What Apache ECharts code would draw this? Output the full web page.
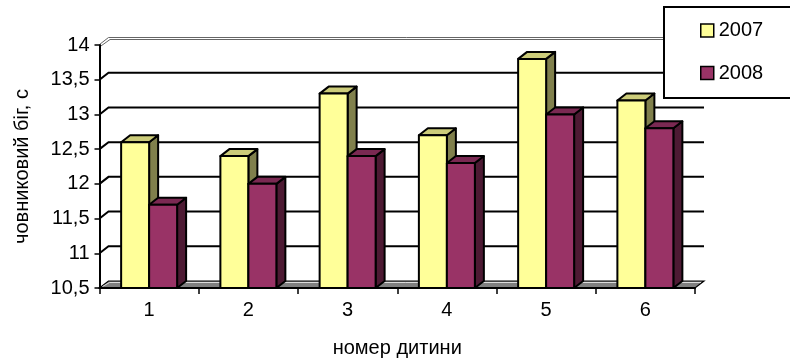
<!DOCTYPE html>
<html>
<head>
<meta charset="utf-8">
<script src="https://cdn.jsdelivr.net/npm/echarts@6/dist/echarts.min.js"></script>
<style>
  html, body { margin: 0; padding: 0; background: #fff; }
  #chart { width: 790px; height: 363px; }
</style>
</head>
<body>
<div id="chart"></div>
<script>
// Shuttle-run times per child, two school years
const categories = ['1', '2', '3', '4', '5', '6'];
const seriesNames = ['2007', '2008'];
const values2007 = [12.6, 12.4, 13.3, 12.7, 13.8, 13.2];
const values2008 = [11.7, 12.0, 12.4, 12.3, 13.0, 12.8];
const yTicks = [10.5, 11, 11.5, 12, 12.5, 13, 13.5, 14];
const yTickLabels = ['10,5', '11', '11,5', '12', '12,5', '13', '13,5', '14'];

const FONT = '"Liberation Sans", Arial, sans-serif';
const DX = 9;      // depth shift of the pseudo-3D box, x
const DY = -7;     // depth shift, y
const BAR_RATIO = 0.282;

// face colours: front, top, side
const palette = [
  { front: '#FFFF99', top: '#CCCC7A', side: '#80804C' },
  { front: '#993366', top: '#7A2952', side: '#4D1A33' }
];

function barRenderer(seriesIdx) {
  const c = palette[seriesIdx];
  return function (params, api) {
    const idx = api.value(0);
    const val = api.value(1);
    const top = api.coord([idx, val]);
    const base = api.coord([idx, yTicks[0]]);
    const band = api.size([1, 0])[0];
    const w = band * BAR_RATIO;
    const x = top[0] + (seriesIdx - 1) * w;
    const yt = top[1], yb = base[1];
    const stroke = { stroke: '#000', lineWidth: 2, lineJoin: 'round' };
    return {
      type: 'group',
      children: [
        { type: 'polygon', shape: { points: [[x + w, yt], [x + w + DX, yt + DY], [x + w + DX, yb + DY], [x + w, yb]] },
          style: Object.assign({ fill: c.side }, stroke) },
        { type: 'polygon', shape: { points: [[x, yt], [x + w, yt], [x + w + DX, yt + DY], [x + DX, yt + DY]] },
          style: Object.assign({ fill: c.top }, stroke) },
        { type: 'rect', shape: { x: x, y: yt, width: w, height: yb - yt },
          style: Object.assign({ fill: c.front }, stroke) }
      ]
    };
  };
}

// back wall gridlines, side-wall diagonals and the floor slab
function wallRenderer(params, api) {
  const v = api.value(1);
  const cs = params.coordSys;
  const y = api.coord([0, v])[1];
  const x0 = cs.x, x1 = cs.x + cs.width;
  if (v === yTicks[0]) {
    return {
      type: 'group',
      children: [
        { type: 'polygon', shape: { points: [[x0, y], [x1, y], [x1 + DX, y + DY], [x0 + DX, y + DY]] },
          style: { fill: '#808080', stroke: '#000', lineWidth: 1.2 } },
        { type: 'polyline', shape: { points: [[x0 + 3, y - 1.5], [x0 + DX + 1, y + DY + 1.5], [x1 + DX - 3, y + DY + 1.5]] },
          style: { stroke: '#dcdcdc', lineWidth: 1, fill: null } }
      ]
    };
  }
  if (v === yTicks[yTicks.length - 1]) {
    return {
      type: 'group',
      children: [
        { type: 'polyline', shape: { points: [[x0, y - 0.5], [x0 + DX, y + DY - 0.5], [x1 + DX, y + DY - 0.5]] },
          style: { stroke: '#666', lineWidth: 1, fill: null } },
        { type: 'polyline', shape: { points: [[x0 + 1, y + 1.3], [x0 + DX + 1.5, y + DY + 1.5], [x1 + DX, y + DY + 1.5]] },
          style: { stroke: '#666', lineWidth: 1, fill: null } }
      ]
    };
  }
  return {
    type: 'polyline',
    shape: { points: [[x0, y], [x0 + DX, y + DY], [x1 + DX, y + DY]] },
    style: { stroke: '#000', lineWidth: 2, fill: null }
  };
}

const chart = echarts.init(document.getElementById('chart'), null, { renderer: 'canvas' });
chart.setOption({
  animation: false,
  backgroundColor: '#fff',
  grid: { left: 99.5, right: 95, top: 45, bottom: 75, outerBoundsMode: 'none', containLabel: false },
  xAxis: {
    type: 'category',
    data: categories,
    name: 'номер дитини',
    nameLocation: 'middle',
    nameGap: 50,
    nameTextStyle: { fontFamily: FONT, fontSize: 20, color: '#000' },
    axisLine: { lineStyle: { color: '#000', width: 2 } },
    axisTick: { show: true, length: 6, lineStyle: { color: '#000', width: 1.5 } },
    axisLabel: { fontFamily: FONT, fontSize: 20, color: '#000', margin: 12 },
    splitLine: { show: false },
    z: 5
  },
  yAxis: {
    type: 'value',
    min: 10.5,
    max: 14,
    interval: 0.5,
    name: 'човниковий біг, с',
    nameLocation: 'middle',
    nameGap: 67,
    nameRotate: 90,
    nameTextStyle: { fontFamily: FONT, fontSize: 20, color: '#000' },
    axisLine: { show: true, lineStyle: { color: '#000', width: 2 } },
    axisTick: { show: true, length: 5, lineStyle: { color: '#000', width: 1.5 } },
    axisLabel: {
      fontFamily: FONT, fontSize: 20, color: '#000', margin: 10,
      formatter: function (v) { const i = yTicks.indexOf(v); return i >= 0 ? yTickLabels[i] : ''; }
    },
    splitLine: { show: false },
    z: 5
  },
  legend: {
    data: seriesNames,
    orient: 'vertical',
    left: 700,
    top: 20.5,
    padding: 0,
    itemGap: 22.5,
    itemWidth: 13,
    itemHeight: 13,
    icon: 'rect',
    itemStyle: { borderColor: '#000', borderWidth: 1.5 },
    textStyle: { fontFamily: FONT, fontSize: 20, color: '#000' },
    z: 60
  },
  graphic: [
    { type: 'rect', z: 50, shape: { x: 664, y: 7, width: 140, height: 91 },
      style: { fill: '#fff', stroke: '#000', lineWidth: 2 } }
  ],
  series: [
    {
      type: 'custom',
      name: 'wall',
      renderItem: wallRenderer,
      data: yTicks.map(function (v) { return [0, v]; }),
      z: 1,
      silent: true
    },
    {
      type: 'custom',
      name: seriesNames[0],
      renderItem: barRenderer(0),
      itemStyle: { color: palette[0].front },
      data: values2007.map(function (v, i) { return [i, v]; }),
      z: 3
    },
    {
      type: 'custom',
      name: seriesNames[1],
      renderItem: barRenderer(1),
      itemStyle: { color: palette[1].front },
      data: values2008.map(function (v, i) { return [i, v]; }),
      z: 3
    }
  ]
});
</script>
</body>
</html>
